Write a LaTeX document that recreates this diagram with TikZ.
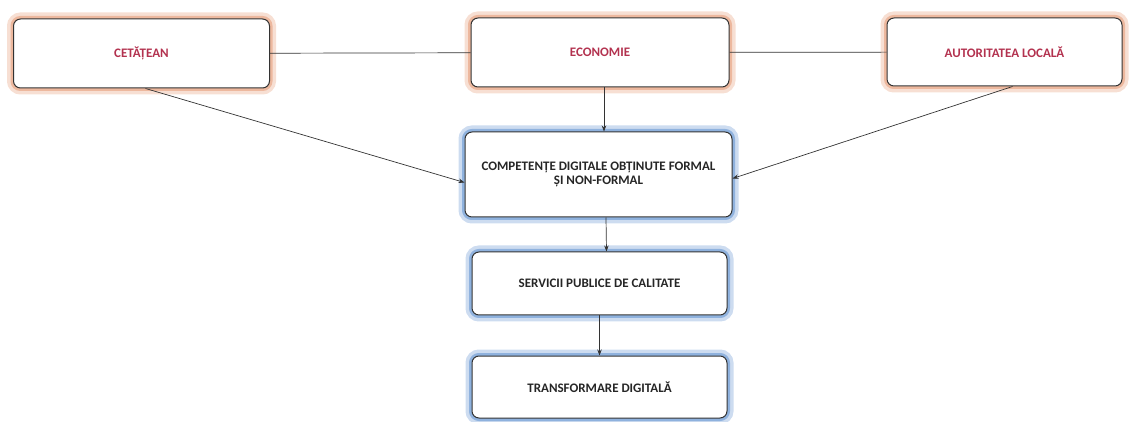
\documentclass[tikz,border=0pt]{standalone}
\usepackage{fontspec}
\setmainfont{Carlito}
\usetikzlibrary{arrows.meta}

\definecolor{rosetext}{HTML}{B3324F}
\definecolor{peachglow}{HTML}{EDB89E}
\definecolor{blueglow}{HTML}{8FB2DE}

\tikzset{
    box/.style={draw=black!80, line width=1pt, rounded corners=7pt,
        fill=white, align=center, inner sep=2pt,
        font=\fontsize{13}{14.5}\selectfont\bfseries},
    actor/.style={box, text=rosetext,
        preaction={draw=peachglow!45, line width=13pt, rounded corners=7pt},
        preaction={draw=peachglow, line width=6pt, rounded corners=7pt}},
    stage/.style={box, text=black!85,
        preaction={draw=blueglow!45, line width=13pt, rounded corners=7pt},
        preaction={draw=blueglow, line width=6pt, rounded corners=7pt}},
    arr/.style={-{Stealth[length=6pt,width=4.5pt]}, line width=0.7pt, black!80},
    link/.style={line width=0.7pt, black!80}
}

\begin{document}
\begin{tikzpicture}[x=1pt, y=-1pt]
    \useasboundingbox (0, 0) rectangle (1136, 422);

    % top row
    \node[actor, minimum width=256pt, minimum height=69pt] (cet) at (141.5, 53.5) {CETĂȚEAN};
    \node[actor, minimum width=258pt, minimum height=69pt] (eco) at (600, 52.5) {ECONOMIE};
    \node[actor, minimum width=235pt, minimum height=68pt] (aut) at (1004.5, 52) {AUTORITATEA LOCALĂ};

    % middle column
    \node[stage, minimum width=267pt, minimum height=85pt] (comp) at (598.5, 174.5)
        {COMPETENȚE DIGITALE OBȚINUTE FORMAL\\ȘI NON-FORMAL};
    \node[stage, minimum width=255pt, minimum height=63pt] (serv) at (599.5, 283.5)
        {SERVICII PUBLICE DE CALITATE};
    \node[stage, minimum width=255pt, minimum height=62pt] (trans) at (599.5, 387)
        {TRANSFORMARE DIGITALĂ};

    \draw[link] (cet) -- (eco);
    \draw[link] (eco) -- (aut);

    \draw[arr] ([xshift=4pt]eco.south) -- ([xshift=5.5pt]comp.north);
    \draw[arr] ([xshift=4pt]cet.south) -- ([yshift=-8pt]comp.west);
    \draw[arr] ([xshift=8pt]aut.south) -- ([yshift=-4pt]comp.east);
    \draw[arr] ([xshift=7.5pt]comp.south) -- ([xshift=7pt]serv.north);
    \draw[arr] (serv.south) -- (trans.north);

\end{tikzpicture}
\end{document}
